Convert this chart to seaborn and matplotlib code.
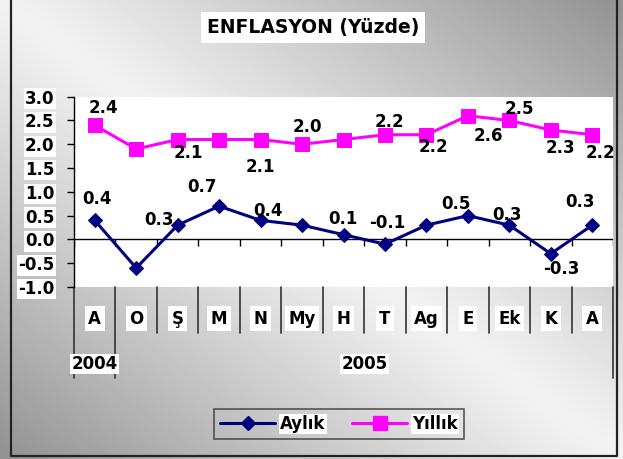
import numpy as np
import pandas as pd
import matplotlib
matplotlib.use("Agg")
import matplotlib.pyplot as plt
import seaborn as sns
from matplotlib.lines import Line2D
from matplotlib.transforms import blended_transform_factory

# data
months = ["A", "O", "Ş", "M", "N", "My", "H", "T", "Ag", "E", "Ek", "K", "A"]
years = ["2004", "2005"]
aylik = [0.4, -0.6, 0.3, 0.7, 0.4, 0.3, 0.1, -0.1, 0.3, 0.5, 0.3, -0.3, 0.3]
yillik = [2.4, 1.9, 2.1, 2.1, 2.1, 2.0, 2.1, 2.2, 2.2, 2.6, 2.5, 2.3, 2.2]
yticks = [-1.0, -0.5, 0.0, 0.5, 1.0, 1.5, 2.0, 2.5, 3.0]

# value label offsets (pixels) for the points that carry a label
aylik_off = {0: (2, 21), 2: (-19, 5), 3: (-17, 19), 4: (7, 9), 6: (-1, 16),
             7: (2, 21), 9: (-12, 12), 10: (-2, 10), 11: (11, -15), 12: (-12, 23)}
yillik_off = {0: (9, 17), 2: (11, -13), 4: (0, -27), 5: (5, 17), 7: (4, 13),
              8: (7, -12), 9: (20, -20), 10: (10, 11), 11: (10, -18), 12: (8, -18)}

NAVY = "#000080"
PINK = "#FF00FF"

sns.set_theme(style="white")
plt.rcParams["font.family"] = ["DejaVu Sans"]
plt.rcParams["axes.unicode_minus"] = False
plt.rcParams["text.color"] = "black"
plt.rcParams["ytick.color"] = "black"
plt.rcParams["xtick.color"] = "black"

W, H = 623, 459
fig = plt.figure(figsize=(W / 100, H / 100), dpi=100)

# grey gradient background + frame
bg = fig.add_axes([0, 0, 1, 1])
bg.set_zorder(-5)
yy, xx = np.mgrid[0:1:H * 1j, 0:1:W * 1j]
grad = 0.95 - 0.38 * np.abs(xx - yy) ** 1.1
bg.imshow(grad, cmap="gray", vmin=0, vmax=1, aspect="auto",
          extent=[0, 1, 0, 1], origin="upper")
bg.plot([11 / W, 11 / W, 617 / W, 617 / W], [1, 1 - 456 / H, 1 - 456 / H, 1],
        color="#222222", lw=1.6)
bg.set_xlim(0, 1)
bg.set_ylim(0, 1)
bg.axis("off")

ax = fig.add_axes([74 / W, 1 - 287 / H, (613 - 74) / W, (287 - 96.7) / H])
ax.set_facecolor("white")

df = pd.DataFrame({"x": np.arange(len(months)), "Aylık": aylik, "Yıllık": yillik})
sns.lineplot(data=df, x="x", y="Aylık", ax=ax, color=NAVY, lw=2.2,
             marker="D", markersize=7, markeredgecolor=NAVY, legend=False)
sns.lineplot(data=df, x="x", y="Yıllık", ax=ax, color=PINK, lw=2.2,
             marker="s", markersize=10, markeredgecolor=PINK, legend=False)

ax.set_xlim(-0.5, len(months) - 0.5)
ax.set_ylim(-1, 3)
ax.set_xlabel("")
ax.set_ylabel("")
ax.set_xticks([])
ax.set_yticks(yticks)
ax.set_yticklabels([f"{t:.1f}" for t in yticks])
ax.tick_params(axis="y", direction="out", length=5, width=1, color="black",
               labelcolor="black", labelsize=12, pad=9, left=True)
for t in ax.get_yticklabels():
    t.set_fontweight("bold")
    t.set_bbox(dict(facecolor="white", edgecolor="none", pad=1))
for s in ["top", "right", "bottom"]:
    ax.spines[s].set_visible(False)
ax.spines["left"].set_color("black")
ax.spines["left"].set_linewidth(1)

# zero line with category ticks
ax.axhline(0, color="black", lw=1, zorder=1)
bounds = np.arange(-0.5, len(months), 1.0)
ax.vlines(bounds, -0.13, 0, color="black", lw=1, zorder=1)

# value labels
for i, (dx, dy) in aylik_off.items():
    ax.annotate(f"{aylik[i]:.1f}", (i, aylik[i]), xytext=(dx, dy),
                textcoords="offset pixels", ha="center", va="center",
                fontsize=12, fontweight="bold", color="black")
for i, (dx, dy) in yillik_off.items():
    ax.annotate(f"{yillik[i]:.1f}", (i, yillik[i]), xytext=(dx, dy),
                textcoords="offset pixels", ha="center", va="center",
                fontsize=12, fontweight="bold", color="black")

# two-level category axis below the plot area
trans = blended_transform_factory(ax.transData, ax.transAxes)
for b in bounds:
    long = b in (-0.5, 0.5, len(months) - 0.5)
    ax.plot([b, b], [0, -0.478 if long else -0.242], transform=trans,
            clip_on=False, color="#333333", lw=1.2)
box = dict(facecolor="white", edgecolor="none", pad=2.5)
for i, m in enumerate(months):
    ax.text(i, -0.168, m, transform=trans, ha="center", va="center",
            fontsize=12, fontweight="bold", bbox=box)
ax.text(0, -0.405, years[0], transform=trans, ha="center", va="center",
        fontsize=12, fontweight="bold", bbox=dict(facecolor="white", edgecolor="none", pad=1))
ax.text((1 + len(months) - 1) / 2, -0.405, years[1], transform=trans,
        ha="center", va="center", fontsize=12, fontweight="bold",
        bbox=dict(facecolor="white", edgecolor="none", pad=1))

fig.text(313 / W, 1 - 27.5 / H, "ENFLASYON (Yüzde)", ha="center", va="center",
         fontsize=13.5, fontweight="bold",
         bbox=dict(facecolor="white", edgecolor="none", pad=4))

handles = [Line2D([], [], color=NAVY, lw=2.2, marker="D", markersize=7),
           Line2D([], [], color=PINK, lw=2.2, marker="s", markersize=10)]
leg = fig.legend(handles, ["Aylık", "Yıllık"], loc="center",
                 bbox_to_anchor=(339 / W, 1 - 424 / H), ncol=2, frameon=True,
                 fancybox=False, edgecolor="#333333", facecolor="none",
                 prop={"weight": "bold", "size": 12}, handlelength=3.3,
                 columnspacing=1.6, handletextpad=0.3, borderpad=0.35)
leg.get_frame().set_linewidth(1.2)
for t in leg.get_texts():
    t.set_bbox(dict(facecolor="white", edgecolor="none", pad=1))

fig.savefig("out.png", dpi=100)
